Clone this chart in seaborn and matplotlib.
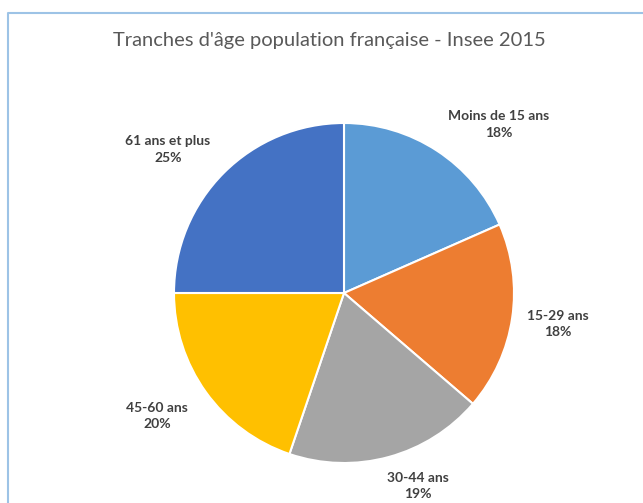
import numpy as np
import matplotlib
matplotlib.use("Agg")
import matplotlib.pyplot as plt
import seaborn as sns

# data
tranches = ["Moins de 15 ans", "15-29 ans", "30-44 ans", "45-60 ans", "61 ans et plus"]
parts = [18.4, 17.9, 18.9, 19.8, 25.0]
couleurs = ["#5B9BD5", "#ED7D31", "#A5A5A5", "#FFC000", "#4472C4"]

sns.set_theme(style="white")
plt.rcParams['font.family'] = ['Lato', 'DejaVu Sans']

W, H = 643, 503
fig = plt.figure(figsize=(W / 100, H / 100), dpi=100)
ax = fig.add_axes([0, 0, 1, 1])

cx, cy, r = 344, H - 293, 170
wedges, _ = ax.pie(parts, colors=couleurs, startangle=90, counterclock=False,
                   center=(cx, cy), radius=r, frame=True,
                   wedgeprops=dict(edgecolor='white', linewidth=1.5))
ax.set_xlim(0, W)
ax.set_ylim(0, H)
ax.set_aspect('equal')
ax.axis('off')

# label positions (pixel coords, from top)
label_pos = [(499, 124), (558, 324), (418, 486), (157, 416), (168, 149)]
tot = sum(parts)
for name, v, (lx, ly) in zip(tranches, parts, label_pos):
    ax.text(lx, H - ly, f"{name}\n{round(v / tot * 100):.0f}%", ha='center', va='center',
            fontsize=10, fontweight='bold', color='#404040', linespacing=1.5)

ax.text(329, H - 40, "Tranches d'âge population française - Insee 2015", ha='center', va='center',
        fontsize=14.5, color='#595959')

# chart frame
ax.plot([8, 8, W], [0, H - 13, H - 13], color='#9DC3E6', lw=1.5, clip_on=False)

fig.savefig("out.png", dpi=100, facecolor='white')
